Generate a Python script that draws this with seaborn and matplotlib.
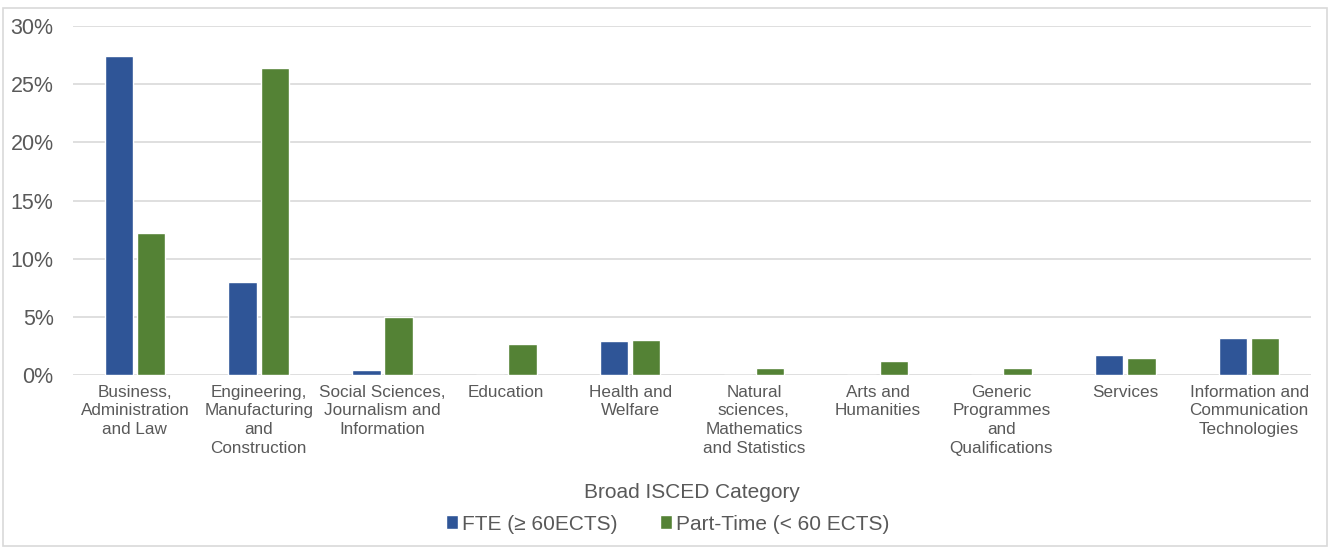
import matplotlib
matplotlib.use("Agg")
import matplotlib.pyplot as plt
import matplotlib.font_manager as fm
from matplotlib.patches import Rectangle
from matplotlib.ticker import PercentFormatter
import pandas as pd
import seaborn as sns

categories = [
    "Business,\nAdministration\nand Law",
    "Engineering,\nManufacturing\nand\nConstruction",
    "Social Sciences,\nJournalism and\nInformation",
    "Education",
    "Health and\nWelfare",
    "Natural\nsciences,\nMathematics\nand Statistics",
    "Arts and\nHumanities",
    "Generic\nProgrammes\nand\nQualifications",
    "Services",
    "Information and\nCommunication\nTechnologies",
]
fte = [27.4, 8.0, 0.45, 0.0, 2.9, 0.0, 0.0, 0.0, 1.75, 3.15]
part_time = [12.2, 26.4, 5.0, 2.65, 3.05, 0.57, 1.2, 0.57, 1.5, 3.15]
series_names = ["FTE (≥ 60ECTS)", "Part-Time (< 60 ECTS)"]
colors = ["#2F5597", "#548235"]

df = pd.DataFrame({
    "category": categories * 2,
    "value": fte + part_time,
    "series": [series_names[0]] * len(categories) + [series_names[1]] * len(categories),
})

sns.set_theme(style="white")
available = {f.name for f in fm.fontManager.ttflist}
family = "Liberation Sans Narrow" if "Liberation Sans Narrow" in available else "Liberation Sans"
plt.rcParams["font.family"] = [family, "DejaVu Sans"]

fig = plt.figure(figsize=(13.3, 5.47), dpi=100)
ax = fig.add_axes([0.0549, 0.3144, 0.9308, 0.6381])

sns.barplot(data=df, x="category", y="value", hue="series", order=categories,
            hue_order=series_names, palette=colors, width=0.52, gap=0.12,
            saturation=1, ax=ax, legend=True)

ax.set_ylim(0, 30)
ax.set_yticks(range(0, 31, 5))
ax.yaxis.set_major_formatter(PercentFormatter(decimals=0))
ax.grid(axis="y", color="#D9D9D9", linewidth=1.2)
ax.set_axisbelow(True)
for s in ax.spines.values():
    s.set_visible(False)
ax.tick_params(axis="both", length=0)
ax.tick_params(axis="y", labelsize=15.5, labelcolor="#595959", pad=14)
ax.tick_params(axis="x", labelsize=12.3, labelcolor="#595959", pad=7)
ax.set_xlim(-0.5, len(categories) - 0.5)
ax.set_ylabel("")
ax.set_xlabel("Broad ISCED Category", fontsize=15, color="#595959")
ax.xaxis.set_label_coords(0.5, -0.31)
for lbl in ax.get_xticklabels():
    lbl.set_linespacing(1.3)

handles, labels = ax.get_legend_handles_labels()
ax.get_legend().remove()
fig.legend(handles, labels, loc="center", bbox_to_anchor=(0.502, 0.042), ncol=2,
           frameon=False, fontsize=15, labelcolor="#595959", handlelength=0.6,
           handleheight=0.65, handletextpad=0.2, columnspacing=2.0)

fig.patches.append(Rectangle((0.002, 0.002), 0.996, 0.984, transform=fig.transFigure,
                             fill=False, edgecolor="#D9D9D9", linewidth=1.2))

fig.savefig("out.png", dpi=100, facecolor="white")
